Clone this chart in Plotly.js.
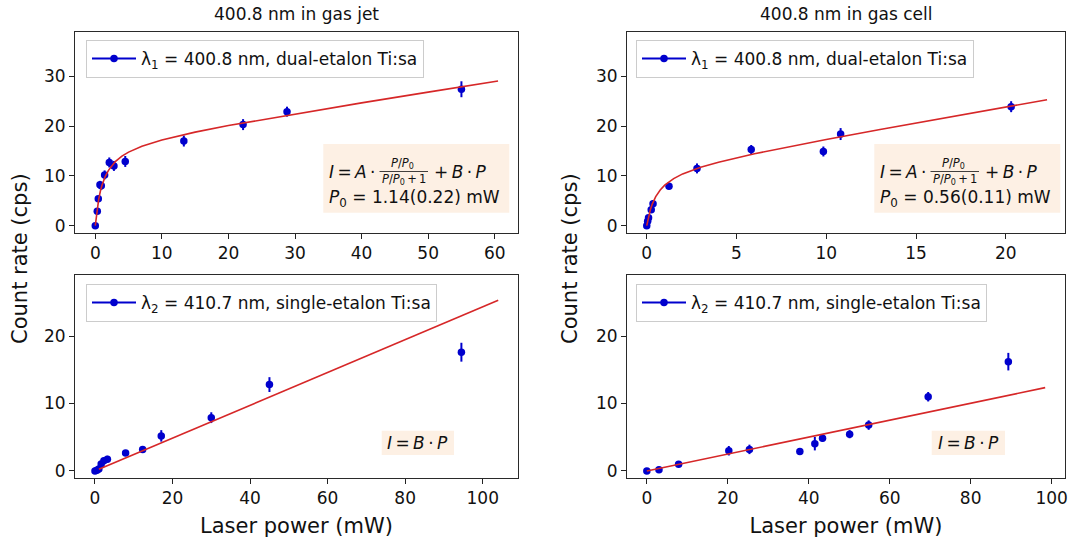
<!DOCTYPE html>
<html>
<head>
<meta charset="utf-8">
<script src="https://cdn.plot.ly/plotly-3.0.1.min.js"></script>
<style>html,body{margin:0;padding:0;background:#fff;}#chart{width:1077px;height:545px;}</style>
</head>
<body>
<div id="chart"></div>
<script>
// ---- Data ----
// Top-left: 400.8 nm in gas jet
const jetPower = [0, 0.3, 0.45, 0.7, 0.9, 1.4, 2.1, 2.8, 4.5, 13.3, 22.2, 28.8, 55.0];
const jetRate  = [0, 2.9, 5.4, 8.2, 8.0, 10.2, 12.7, 12.0, 12.9, 17.0, 20.3, 22.9, 27.4];
const jetErr   = [0.3, 0.5, 0.6, 0.8, 0.8, 0.9, 1.0, 1.0, 1.1, 1.1, 1.1, 1.0, 1.6];
const jetFitP  = [0, 0.25, 0.5, 0.75, 1, 1.5, 2, 3, 4, 5, 7, 10, 15, 20, 30, 40, 50, 60.5];
const jetFitI  = [0, 3.09, 5.25, 6.86, 8.10, 9.91, 11.17, 12.86, 13.97, 14.78, 15.97, 17.22, 18.79, 20.11, 22.46, 24.67, 26.83, 29.06];

// Top-right: 400.8 nm in gas cell
const cellPower = [0, 0.05, 0.1, 0.25, 0.35, 1.24, 2.8, 5.82, 9.84, 10.8, 20.3];
const cellRate  = [0, 0.9, 1.6, 3.2, 4.4, 7.9, 11.5, 15.3, 14.9, 18.4, 23.9];
const cellErr   = [0.3, 0.5, 0.5, 0.6, 0.7, 0.5, 1.0, 0.9, 1.0, 1.2, 1.1];
const cellFitP  = [0, 0.1, 0.2, 0.3, 0.5, 0.75, 1, 1.5, 2, 3, 4, 6, 8, 10, 13, 16, 19, 22.3];
const cellFitI  = [0, 1.84, 3.21, 4.27, 5.84, 7.17, 8.13, 9.46, 10.40, 11.74, 12.76, 14.45, 15.92, 17.32, 19.32, 21.27, 23.21, 25.3];

// Bottom-left: 410.7 nm in gas jet
const jet2Power = [0, 0.5, 1.0, 1.6, 2.3, 3.2, 7.9, 12.3, 17.1, 30.0, 45.0, 94.5];
const jet2Rate  = [0, 0.1, 0.3, 1.05, 1.5, 1.75, 2.65, 3.2, 5.2, 7.9, 12.8, 17.6];
const jet2Err   = [0.2, 0.2, 0.3, 0.4, 0.4, 0.5, 0.4, 0.4, 0.85, 0.8, 1.1, 1.4];
const jet2FitP  = [1.0, 104];
const jet2FitI  = [0.24, 25.3];

// Bottom-right: 410.7 nm in gas cell
const cell2Power = [0, 3.0, 7.85, 20.25, 25.35, 37.8, 41.5, 43.4, 50.1, 54.8, 69.5, 89.3];
const cell2Rate  = [0, 0.2, 1.0, 3.0, 3.2, 2.9, 4.05, 4.85, 5.45, 6.8, 11.0, 16.2];
const cell2Err   = [0.2, 0.3, 0.3, 0.7, 0.7, 0.4, 1.0, 0.5, 0.6, 0.7, 0.7, 1.3];
const cell2FitP  = [0, 98.4];
const cell2FitI  = [0, 12.35];

const panelTitles = ["400.8 nm in gas jet", "400.8 nm in gas cell"];
const legendLabels = ["λ<sub>1</sub> = 400.8 nm, dual-etalon Ti:sa", "λ<sub>2</sub> = 410.7 nm, single-etalon Ti:sa"];
const p0Labels = ["<i>P</i><sub>0</sub> = 1.14(0.22) mW", "<i>P</i><sub>0</sub> = 0.56(0.11) mW"];
const xTicksTopLeft = [0, 10, 20, 30, 40, 50, 60];
const xTicksTopRight = [0, 5, 10, 15, 20];
const xTicksBottom = [0, 20, 40, 60, 80, 100];
const yTicksTop = [0, 10, 20, 30];
const yTicksBottom = [0, 10, 20];

// ---- Styling ----
const FONT = "DejaVu Sans, Liberation Sans, sans-serif";
const DOT = "#0000cd";
const FIT = "#d62728";
const BOXFILL = "#fdf0e4";
const TS = "\u2009"; // thin space

// layout geometry (pixels)
const M = {l: 75, r: 12, t: 32, b: 67};
const W = 1077, H = 545;
const PW = W - M.l - M.r, PH = H - M.t - M.b;
const px = v => (v - M.l) / PW;       // pixel x -> paper
const py = v => (H - M.b - v) / PH;   // pixel y -> paper

function dataTrace(x, y, e, xa, ya) {
  return {x: x, y: y, xaxis: xa, yaxis: ya, type: 'scatter', mode: 'markers',
    marker: {color: DOT, size: 7.5}, showlegend: false,
    error_y: {type: 'data', array: e, visible: true, color: DOT, thickness: 2, width: 0},
    hoverinfo: 'x+y'};
}
function fitTrace(x, y, xa, ya) {
  return {x: x, y: y, xaxis: xa, yaxis: ya, type: 'scatter', mode: 'lines',
    line: {color: FIT, width: 1.6}, showlegend: false, hoverinfo: 'skip'};
}
function legendTrace(name, xa, ya, lg) {
  return {x: [null], y: [null], xaxis: xa, yaxis: ya, type: 'scatter', mode: 'lines+markers',
    name: name, legend: lg, showlegend: true,
    marker: {color: DOT, size: 7.5}, line: {color: DOT, width: 2}};
}

const traces = [
  dataTrace(jetPower, jetRate, jetErr, 'x', 'y'),
  fitTrace(jetFitP, jetFitI, 'x', 'y'),
  legendTrace(legendLabels[0], 'x', 'y', 'legend'),
  dataTrace(cellPower, cellRate, cellErr, 'x2', 'y2'),
  fitTrace(cellFitP, cellFitI, 'x2', 'y2'),
  legendTrace(legendLabels[0], 'x2', 'y2', 'legend2'),
  dataTrace(jet2Power, jet2Rate, jet2Err, 'x3', 'y3'),
  fitTrace(jet2FitP, jet2FitI, 'x3', 'y3'),
  legendTrace(legendLabels[1], 'x3', 'y3', 'legend3'),
  dataTrace(cell2Power, cell2Rate, cell2Err, 'x4', 'y4'),
  fitTrace(cell2FitP, cell2FitI, 'x4', 'y4'),
  legendTrace(legendLabels[1], 'x4', 'y4', 'legend4')
];

function axis(domain, range, tickvals, anchor, extra) {
  return Object.assign({
    domain: domain, range: range, tickvals: tickvals, anchor: anchor,
    showline: true, mirror: true, linecolor: '#2a2a2a', linewidth: 1,
    ticks: 'outside', ticklen: 5, tickwidth: 1, tickcolor: '#222',
    showgrid: false, zeroline: false,
    tickfont: {family: FONT, size: 17, color: '#111'}
  }, extra || {});
}

const xL = [px(75), px(518)], xR = [px(627), px(1065)];
const yT = [py(233), py(32)], yB = [py(478), py(275)];
const xTitle = {text: 'Laser power (mW)', font: {family: FONT, size: 21, color: '#111'}, standoff: 10};

function legendCfg(xpix, ypix) {
  return {x: px(xpix), y: py(ypix), xanchor: 'left', yanchor: 'top',
    bgcolor: 'rgba(255,255,255,0.8)', bordercolor: '#cccccc', borderwidth: 1,
    font: {family: FONT, size: 17, color: '#111'}, itemwidth: 44, tracegroupgap: 0};
}

const annotations = [];
const shapes = [];
// panel titles
annotations.push({text: panelTitles[0], x: px(296.5), y: py(14), xref: 'paper', yref: 'paper', showarrow: false,
  xanchor: 'center', yanchor: 'middle', font: {family: FONT, size: 17, color: '#111'}});
annotations.push({text: panelTitles[1], x: px(846), y: py(14), xref: 'paper', yref: 'paper', showarrow: false,
  xanchor: 'center', yanchor: 'middle', font: {family: FONT, size: 17, color: '#111'}});
// y titles
[20, 570].forEach(xp => annotations.push({text: 'Count rate (cps)', x: px(xp), y: py(259), xref: 'paper', yref: 'paper',
  showarrow: false, textangle: -90, xanchor: 'center', yanchor: 'middle', font: {family: FONT, size: 21, color: '#111'}}));

// formula boxes for the saturation fits
function satBox(ox, p0text) {
  shapes.push({type: 'rect', xref: 'paper', yref: 'paper', x0: px(323.3 + ox), x1: px(509.3 + ox), y0: py(212.7), y1: py(144),
    fillcolor: BOXFILL, line: {width: 0}, layer: 'above'});
  const f = {family: FONT, color: '#111'};
  annotations.push({text: '<i>I</i>' + TS + '=' + TS + '<i>A</i>' + TS + '·', x: px(326.5 + ox), y: py(172), xref: 'paper', yref: 'paper', showarrow: false,
    xanchor: 'left', yanchor: 'middle', font: Object.assign({size: 17}, f)});
  annotations.push({text: '<i>P</i>/<i>P</i><sub>0</sub>', x: px(402.5 + ox), y: py(163.5), xref: 'paper', yref: 'paper', showarrow: false,
    xanchor: 'center', yanchor: 'middle', font: Object.assign({size: 11.5}, f)});
  annotations.push({text: '<i>P</i>/<i>P</i><sub>0</sub>' + TS + '+' + TS + '1', x: px(403.5 + ox), y: py(180), xref: 'paper', yref: 'paper', showarrow: false,
    xanchor: 'center', yanchor: 'middle', font: Object.assign({size: 11.5}, f)});
  shapes.push({type: 'line', xref: 'paper', yref: 'paper', x0: px(379.5 + ox), x1: px(428 + ox), y0: py(171.5), y1: py(171.5),
    line: {color: '#111', width: 0.8}, layer: 'above'});
  annotations.push({text: '+' + TS + '<i>B</i>' + TS + '·' + TS + '<i>P</i>', x: px(432 + ox), y: py(172), xref: 'paper', yref: 'paper', showarrow: false,
    xanchor: 'left', yanchor: 'middle', font: Object.assign({size: 17}, f)});
  annotations.push({text: p0text, x: px(326.5 + ox), y: py(198.5), xref: 'paper', yref: 'paper', showarrow: false,
    xanchor: 'left', yanchor: 'middle', font: Object.assign({size: 17}, f)});
}
satBox(0, p0Labels[0]);
satBox(551, p0Labels[1]);

function linBox(x0, x1) {
  shapes.push({type: 'rect', xref: 'paper', yref: 'paper', x0: px(x0), x1: px(x1), y0: py(455), y1: py(430.7),
    fillcolor: BOXFILL, line: {width: 0}, layer: 'above'});
  annotations.push({text: '<i>I</i>' + TS + '=' + TS + '<i>B</i>' + TS + '·' + TS + '<i>P</i>', x: px((x0 + x1) / 2), y: py(443), xref: 'paper', yref: 'paper',
    showarrow: false, xanchor: 'center', yanchor: 'middle', font: {family: FONT, size: 17, color: '#111'}});
}
linBox(381.7, 454);
linBox(931.7, 1005);

const layout = {
  width: W, height: H, margin: M, paper_bgcolor: '#fff', plot_bgcolor: '#fff',
  font: {family: FONT, color: '#111'},
  showlegend: true,
  xaxis:  axis(xL, [-3.05, 63.5], xTicksTopLeft, 'y'),
  yaxis:  axis(yT, [-1.47, 38.9], yTicksTop, 'x'),
  xaxis2: axis(xR, [-1.1, 23.3], xTicksTopRight, 'y2'),
  yaxis2: axis(yT, [-1.47, 38.9], yTicksTop, 'x2'),
  xaxis3: axis(xL, [-5.15, 109.1], xTicksBottom, 'y3', {title: xTitle}),
  yaxis3: axis(yB, [-1.04, 29.04], yTicksBottom, 'x3'),
  xaxis4: axis(xR, [-4.9, 103.3], xTicksBottom, 'y4', {title: xTitle}),
  yaxis4: axis(yB, [-1.04, 29.04], yTicksBottom, 'x4'),
  legend:  legendCfg(86, 40),
  legend2: legendCfg(636, 40),
  legend3: legendCfg(86, 284),
  legend4: legendCfg(636, 284),
  annotations: annotations,
  shapes: shapes
};

Plotly.newPlot('chart', traces, layout, {staticPlot: true, displayModeBar: false});
</script>
</body>
</html>
